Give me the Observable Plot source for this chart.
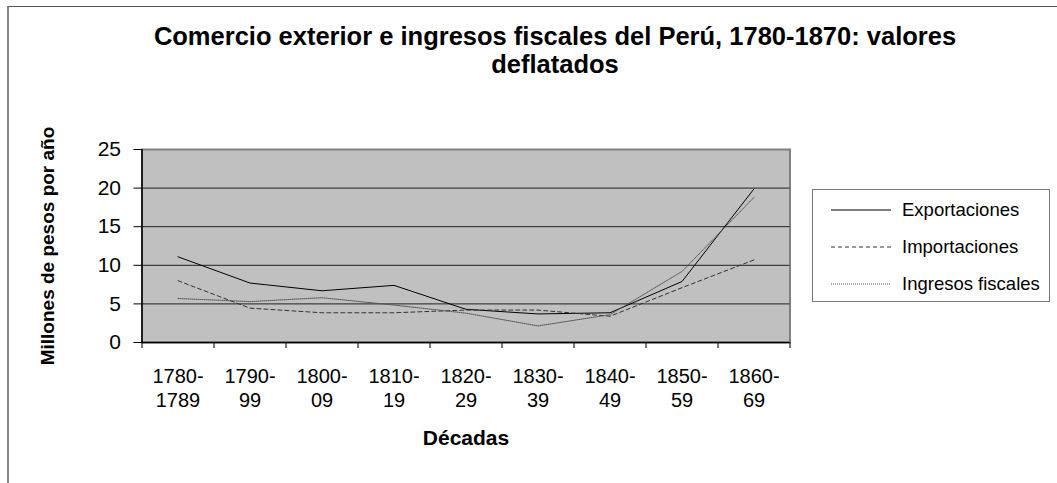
<!DOCTYPE html>
<html><head><meta charset="utf-8">
<script src="https://cdn.jsdelivr.net/npm/d3@7"></script>
<script src="https://cdn.jsdelivr.net/npm/@observablehq/plot@0.6"></script>
<style>
html,body{margin:0;padding:0;background:#fff;}
#wrap{position:relative;width:1057px;height:483px;overflow:hidden;font-family:"Liberation Sans",Arial,sans-serif;}
#frame{position:absolute;left:7px;top:6px;width:1060px;height:490px;border-left:2px solid #888;border-top:1px solid #555;box-sizing:border-box;}
#title{position:absolute;left:0;top:23px;width:1110px;text-align:center;font-weight:bold;font-size:25.5px;line-height:27.5px;color:#000;}
#chart{position:absolute;left:0;top:0;}
#legend{position:absolute;left:812px;top:189px;width:238px;height:113px;border:1px solid #777;box-sizing:border-box;background:#fff;}
#legend .row{position:absolute;left:18px;height:22px;display:flex;align-items:center;font-size:18.5px;color:#000;}
#legend svg{margin-right:11px;}
svg [aria-label="y-axis label"] text, svg [aria-label="x-axis label"] text{font-weight:bold;}
</style>
</head><body>
<div id="wrap">
<div id="frame"></div>
<div id="title">Comercio exterior e ingresos fiscales del Perú, 1780-1870: valores<br>deflatados</div>
<div id="chart"></div>
<div id="legend"></div>
</div>
<script>
const categories = ["1780-\n1789","1790-\n99","1800-\n09","1810-\n19","1820-\n29","1830-\n39","1840-\n49","1850-\n59","1860-\n69"];
const exportaciones = [11.1, 7.7, 6.7, 7.4, 4.3, 3.7, 3.85, 7.9, 19.9];
const importaciones = [8.0, 4.45, 3.85, 3.85, 4.2, 4.2, 3.4, 7.1, 10.7];
const ingresos = [5.7, 5.3, 5.8, 4.85, 3.8, 2.15, 3.6, 9.2, 18.8];
const seriesNames = ["Exportaciones","Importaciones","Ingresos fiscales"];
const yTicks = [0,5,10,15,20,25];

const styles = {
  "Exportaciones": {stroke:"#000", dash:null, width:1},
  "Importaciones": {stroke:"#333", dash:"4,3", width:1},
  "Ingresos fiscales": {stroke:"#555", dash:"1,1", width:1}
};
const seriesValues = [exportaciones, importaciones, ingresos];
const data = [];
seriesNames.forEach((s, k) => seriesValues[k].forEach((v, i) => data.push({serie:s, i, v})));
const idx = categories.map((c, i) => i);
const bounds = d3.range(categories.length + 1).map(i => i - 0.5);

const chart = Plot.plot({
  width: 1057, height: 483,
  marginLeft: 141.5, marginRight: 267.5, marginTop: 149, marginBottom: 141,
  style: {fontFamily: '"Liberation Sans", Arial, sans-serif', background: "transparent", color: "#000"},
  x: {type: "linear", domain: [-0.5, categories.length - 0.5]},
  y: {domain: [0, 25]},
  marks: [
    Plot.frame({fill: "#c0c0c0", stroke: "#808080", strokeWidth: 2}),
    Plot.gridY(yTicks.filter(t => t > 0 && t < 25), {stroke: "#222", strokeOpacity: 1, strokeWidth: 1}),
    ...seriesNames.map(s => Plot.line(data.filter(d => d.serie === s), {
      x: "i", y: "v", stroke: styles[s].stroke, strokeWidth: styles[s].width,
      strokeDasharray: styles[s].dash
    })),
    Plot.ruleX([-0.5], {stroke: "#000", strokeWidth: 1.5}),
    Plot.ruleY([0], {stroke: "#000", strokeWidth: 1.5}),
    Plot.axisY(yTicks, {tickSize: 8, tickPadding: 13, fontSize: 21, tickFormat: d => String(d),
      label: "Millones de pesos por año", labelAnchor: "center", labelArrow: "none", labelOffset: 102}),
    Plot.axisX(bounds, {tickSize: 6, tickFormat: () => "", label: null}),
    Plot.axisX(idx, {tickSize: 0, tickPadding: 24, fontSize: 20, lineHeight: 1.18,
      tickFormat: i => categories[i], label: "Décadas", labelAnchor: "center", labelArrow: "none", labelOffset: 102})
  ]
});
document.getElementById("chart").appendChild(chart);
chart.querySelectorAll('[aria-label="y-axis label"]').forEach(g => g.setAttribute("font-size", "19"));
chart.querySelectorAll('[aria-label="y-axis label"] text').forEach(t => t.setAttribute("font-size", "19"));
chart.querySelectorAll('[aria-label="x-axis label"]').forEach(g => g.setAttribute("font-size", "21"));
chart.querySelectorAll('[aria-label="x-axis label"] text').forEach(t => t.setAttribute("font-size", "21"));

// legend
const legend = document.getElementById("legend");
seriesNames.forEach((s, k) => {
  const row = document.createElement("div");
  row.className = "row";
  row.style.top = (9 + k * 37) + "px";
  const st = styles[s];
  row.innerHTML = `<svg width="60" height="4"><line x1="0" x2="60" y1="2" y2="2" stroke="${st.stroke}" stroke-width="1" ${st.dash ? `stroke-dasharray="${st.dash}"` : ""}/></svg><span>${s}</span>`;
  legend.appendChild(row);
});
</script>
</body></html>
